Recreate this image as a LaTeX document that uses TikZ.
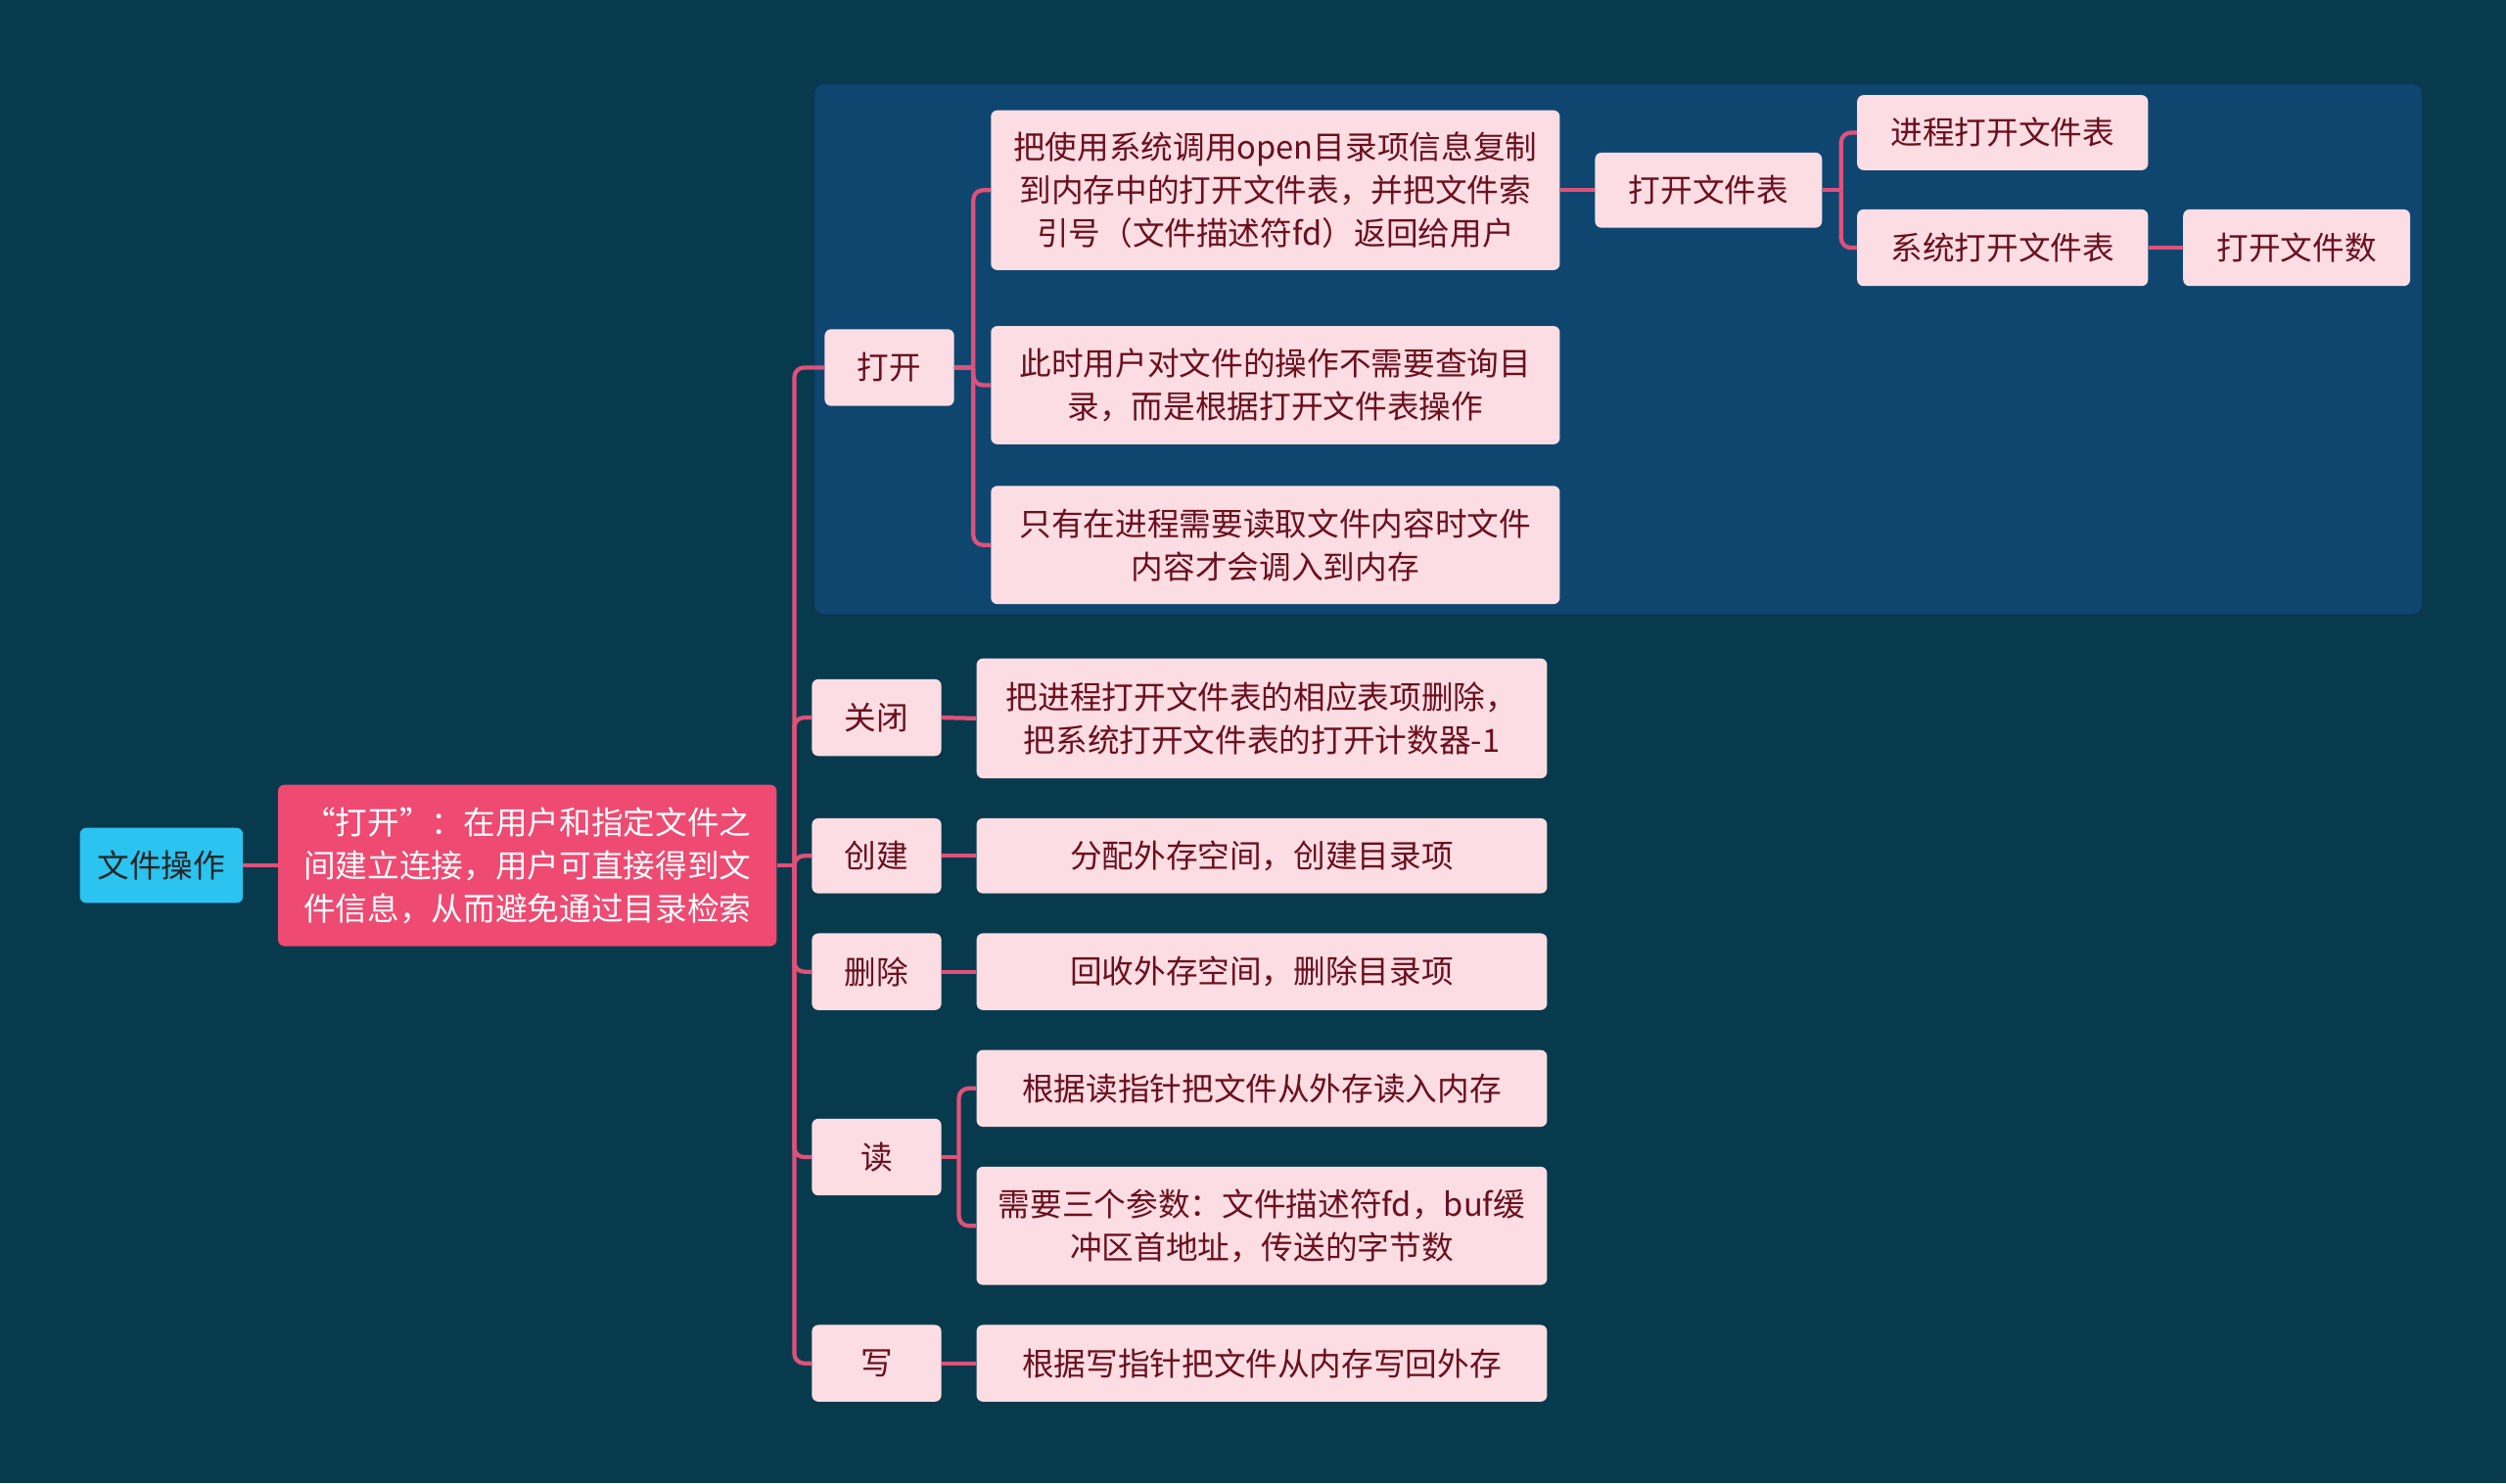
\documentclass[tikz,border=0pt]{standalone}
\usepackage{fontspec}
\setmainfont{Noto Sans CJK SC}
\definecolor{bg}{HTML}{083A4D}
\definecolor{grp}{HTML}{0F4670}
\definecolor{grpb}{HTML}{0B3552}
\definecolor{pk}{HTML}{FBDDE3}
\definecolor{pkt}{HTML}{6B0F1E}
\definecolor{mainc}{HTML}{EE4A72}
\definecolor{rootc}{HTML}{2BC3EF}
\definecolor{linec}{HTML}{E0517A}
\tikzset{
  box/.style={rounded corners=4pt, fill=pk, text=pkt, align=center, inner sep=0pt,
    font=\fontsize{20}{27}\selectfont},
  conn/.style={draw=linec, line width=2.6pt, rounded corners=6pt},
}
\begin{document}
\begin{tikzpicture}[x=1pt,y=-1pt]
\fill[bg] (0,0) rectangle (1568,928);
\useasboundingbox (0,0) rectangle (1568,928);
\draw[fill=grp, draw=grpb, line width=1.5pt, rounded corners=6pt] (509,52) rectangle (1516,385);

% nodes
\node[box, fill=rootc, text={black!85}, minimum width=102pt, minimum height=47pt] (root) at (101,541.5) {文件操作};
\node[box, fill=mainc, text=white, minimum width=312pt, minimum height=101pt] (main) at (330,541.5) {“打开”：在用户和指定文件之\\间建立连接，用户可直接得到文\\件信息，从而避免通过目录检索};

\node[box, minimum width=81pt, minimum height=48pt] (open) at (556.5,230) {打开};
\node[box, minimum width=356pt, minimum height=100pt] (o1) at (798,119) {把使用系统调用open目录项信息复制\\到内存中的打开文件表，并把文件索\\引号（文件描述符fd）返回给用户};
\node[box, minimum width=356pt, minimum height=74pt] (o2) at (798,241) {此时用户对文件的操作不需要查询目\\录，而是根据打开文件表操作};
\node[box, minimum width=356pt, minimum height=74pt] (o3) at (798,341) {只有在进程需要读取文件内容时文件\\内容才会调入到内存};
\node[box, minimum width=142pt, minimum height=47pt] (oft) at (1069,119) {打开文件表};
\node[box, minimum width=182pt, minimum height=47pt] (poft) at (1253,83) {进程打开文件表};
\node[box, minimum width=182pt, minimum height=48pt] (soft) at (1253,155) {系统打开文件表};
\node[box, minimum width=142pt, minimum height=48pt] (ofn) at (1437,155) {打开文件数};

\node[box, minimum width=81pt, minimum height=48pt] (close) at (548.5,449) {关闭};
\node[box, minimum width=357pt, minimum height=75pt] (c1) at (789.5,449.5) {把进程打开文件表的相应表项删除，\\把系统打开文件表的打开计数器-1};
\node[box, minimum width=81pt, minimum height=47pt] (create) at (548.5,535.5) {创建};
\node[box, minimum width=357pt, minimum height=47pt] (cr1) at (789.5,535.5) {分配外存空间，创建目录项};
\node[box, minimum width=81pt, minimum height=48pt] (del) at (548.5,608) {删除};
\node[box, minimum width=357pt, minimum height=48pt] (d1) at (789.5,608) {回收外存空间，删除目录项};
\node[box, minimum width=81pt, minimum height=48pt] (read) at (548.5,724) {读};
\node[box, minimum width=357pt, minimum height=48pt] (r1) at (789.5,681) {根据读指针把文件从外存读入内存};
\node[box, minimum width=357pt, minimum height=74pt] (r2) at (789.5,767) {需要三个参数：文件描述符fd，buf缓\\冲区首地址，传送的字节数};
\node[box, minimum width=81pt, minimum height=48pt] (write) at (548.5,853) {写};
\node[box, minimum width=357pt, minimum height=48pt] (w1) at (789.5,853) {根据写指针把文件从内存写回外存};

% junction coordinates
\coordinate (s0) at (497,541.5);
\coordinate (s1) at (609,230);
\coordinate (s2) at (1152,119);
\coordinate (s3) at (600,724);

% connectors
\draw[conn] (root.east) -- (main.west);
\draw[conn] (main.east) -- (s0);
\foreach \c in {open,close,create,del,read,write} \draw[conn] (s0) |- (\c.west);
\draw[conn] (open.east) -- (s1);
\foreach \c in {o1,o2,o3} \draw[conn] (s1) |- (\c.west);
\draw[conn] (o1.east) -- (oft.west);
\draw[conn] (oft.east) -- (s2);
\foreach \c in {poft,soft} \draw[conn] (s2) |- (\c.west);
\draw[conn] (soft.east) -- (ofn.west);
\draw[conn] (close.east) -- (c1.west);
\draw[conn] (create.east) -- (cr1.west);
\draw[conn] (del.east) -- (d1.west);
\draw[conn] (read.east) -- (s3);
\foreach \c in {r1,r2} \draw[conn] (s3) |- (\c.west);
\draw[conn] (write.east) -- (w1.west);
\end{tikzpicture}
\end{document}
